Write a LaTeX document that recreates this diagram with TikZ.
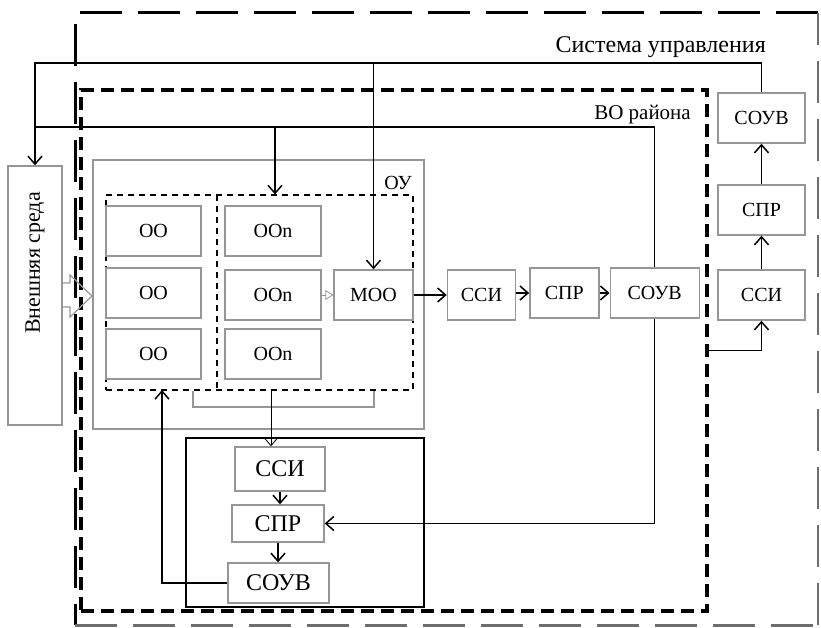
\documentclass[tikz,border=0pt]{standalone}
\usepackage{fontspec}
\setmainfont{Liberation Serif}
\usetikzlibrary{positioning,arrows.meta}
\definecolor{boxgray}{RGB}{150,150,150}
\definecolor{framegray}{RGB}{110,110,110}

\begin{document}
\begin{tikzpicture}[x=1pt, y=-1pt,
  every node/.style={font=\rmfamily\fontsize{20}{24}\selectfont, inner sep=0pt},
  blk/.style={draw=boxgray, line width=1.4pt, minimum height=50pt},
  frm/.style={draw=boxgray, line width=1.4pt},
  dbox/.style={draw, line width=1.2pt, dash pattern=on 6pt off 5pt},
  arr/.style={-{Straight Barb[length=8pt,width=14pt,line width=1.5pt]}, line width=1.5pt},
  tarr/.style={-{Straight Barb[length=7pt,width=12pt]}, line width=0.8pt},
  fb/.style={line width=1.2pt}
]
\useasboundingbox (0,0) rectangle (821,628);

% ---------------- outer frames ----------------
\draw[line width=3pt, dash pattern=on 42pt off 16pt] (818,13) -- (75,13) -- (75,625);
\draw[framegray, line width=3pt, dash pattern=on 42pt off 16pt] (75,625) -- (818,625);
\draw[framegray, line width=1.5pt, dash pattern=on 42pt off 16pt] (818,625) -- (818,13);
\node[draw, line width=3.5pt, dash pattern=on 13pt off 7pt,
      minimum width=626pt, minimum height=521pt] (vo) at (394,350.5) {};

\node[anchor=base east, font=\rmfamily\fontsize{24}{28}\selectfont] (syslab) at (766,53) {Система управления};
\node[anchor=base east, font=\rmfamily\fontsize{21}{25}\selectfont] (volab) at (691,120) {ВО района};

% ---------------- external environment ----------------
\node[frm, minimum width=54pt, minimum height=259pt] (vs) at (35,295.5) {};
\node[rotate=90, font=\rmfamily\fontsize{22}{26}\selectfont] (vslab) at (35,263) {Внешняя среда};
\draw[boxgray, line width=1.2pt] (62,283) -- (70,283) -- (70,275) -- (92,296)
  -- (70,317) -- (70,307) -- (62,307);

% ---------------- object of control ----------------
\node[frm, minimum width=331pt, minimum height=269pt] (ou) at (258.5,294.5) {};
\node[anchor=base east] (oulab) at (412,190) {ОУ};
\node[dbox, minimum width=307pt, minimum height=195pt] (ddb) at (259.5,292.5) {};
\draw[dbox] (217,195) -- (217,390);

\node[blk, minimum width=95pt] (oo1) at (153.5,231) {ОО};
\node[blk, minimum width=95pt] (oo2) at (153.5,293) {ОО};
\node[blk, minimum width=95pt] (oo3) at (153.5,354) {ОО};
\node[blk, minimum width=96pt] (oon1) at (273,231) {ООn};
\node[blk, minimum width=96pt] (oon2) at (273,295) {ООn};
\node[blk, minimum width=96pt] (oon3) at (273,354) {ООn};
\node[blk, minimum width=79pt] (moo) at (373.5,295) {МОО};

% ---------------- district chain ----------------
\node[blk, minimum width=68pt, right=33pt of moo] (ssiA) {ССИ};
\node[blk, minimum width=69pt, right=13pt of ssiA, yshift=2pt] (sprA) {СПР};
\node[blk, minimum width=89pt, right=10pt of sprA] (souvA) {СОУВ};

% ---------------- control system chain ----------------
\node[blk, minimum width=87pt] (ssiR) at (761.5,295) {ССИ};
\node[blk, minimum width=87pt] (sprR) at (761.5,210) {СПР};
\node[blk, minimum width=87pt] (souvR) at (761.5,118) {СОУВ};

% ---------------- local control block ----------------
\node[draw, line width=2.5pt, minimum width=238pt, minimum height=169pt] (sb) at (305,522.5) {};
\node[blk, minimum width=90pt, minimum height=44pt, font=\rmfamily\fontsize{24}{28}\selectfont] (ssiB) at (280,469) {ССИ};
\node[blk, minimum width=92pt, minimum height=37pt, font=\rmfamily\fontsize{24}{28}\selectfont] (sprB) at (278,523.5) {СПР};
\node[blk, minimum width=101pt, minimum height=40pt, font=\rmfamily\fontsize{24}{28}\selectfont] (souvB) at (278.5,583) {СОУВ};

% ---------------- connectors ----------------
\coordinate (tl) at (35,63);
\coordinate (ml) at (35,127);
\coordinate (br) at (275,127);
\coordinate (cj) at (271,390);
\coordinate (ret) at (162,390);

\draw[arr] (souvR.north) |- (tl) -- (vs.north);
\draw[arr] (moo.north |- tl) -- (moo.north);
\draw[fb] (souvA.north) |- (ml);
\draw[arr] (br) -- (br |- ddb.north);
\draw[arr] (souvA.south) |- (sprB.east);

\draw[arr] (vo.east) -| (ssiR.south);
\draw[arr] (ssiR) -- (sprR);
\draw[arr] (sprR) -- (souvR);

\draw[-{Triangle[open,length=8pt,width=10pt]}, boxgray, line width=0.8pt] (oon2.east) -- (moo.west);
\draw[arr] (moo.east) -- (ssiA.west);
\draw[arr] (ssiA.east |- sprA.west) -- (sprA.west);
\draw[arr] (sprA.east) -- (souvA.west);

\draw[boxgray, line width=1.2pt] (ddb.south -| 193,0) -- (193,407) -- (374,407) -- (ddb.south -| 374,0);
\draw[tarr] (cj) -- (cj |- ssiB.north);
\draw[arr] (ssiB.south) -- (ssiB.south |- sprB.north);
\draw[arr] (sprB.south) -- (sprB.south |- souvB.north);
\draw[arr] (souvB.west) -| (ret);

\end{tikzpicture}
\end{document}
